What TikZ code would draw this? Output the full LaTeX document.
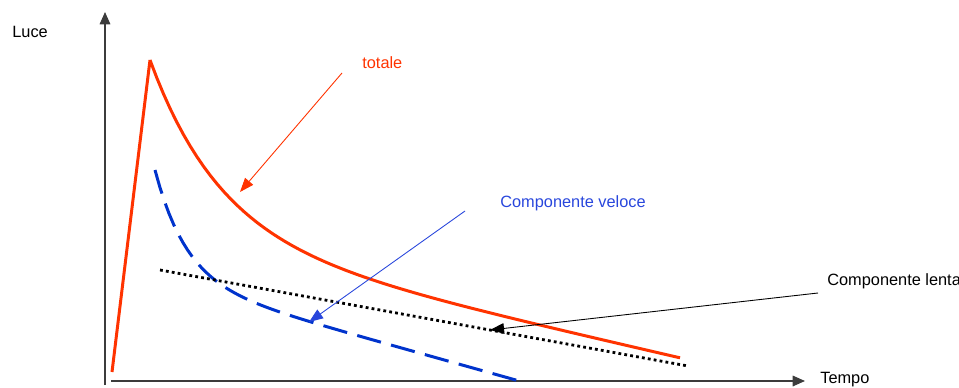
\documentclass[tikz,border=0pt]{standalone}
\usepackage{fontspec}
\setmainfont{Liberation Sans}
\usetikzlibrary{arrows.meta}
\definecolor{totred}{RGB}{255,51,0}
\definecolor{fastblue}{RGB}{0,51,204}
\definecolor{lblblue}{RGB}{40,70,220}
\definecolor{axisgray}{RGB}{60,60,60}
\tikzset{
  lbl/.style={anchor=west,inner sep=0pt,font=\fontsize{9.3}{11}\selectfont},
  axisline/.style={draw=axisgray,line width=0.9pt,-{Triangle[length=7pt,width=6pt]}},
  pointer/.style={line width=0.5pt,-{Triangle[length=8pt,width=6pt]}},
  totcurve/.style={totred,line width=1.7pt},
  fastcurve/.style={fastblue,line width=1.7pt,dash pattern=on 14pt off 6pt},
  slowcurve/.style={black,line width=1.6pt,dash pattern=on 1.6pt off 1.8pt}
}
\begin{document}
\begin{tikzpicture}[x=0.02cm,y=-0.02cm]
  \useasboundingbox (0,0) rectangle (959,388);
  \def\base{381}  % height of the time axis
  \def\tt{70}     % decay of the total
  \def\tf{31}     % decay of the fast part

  % axes
  \coordinate (yfoot) at (105,385);
  \coordinate (ytop) at (105,12);
  \coordinate (xfoot) at (111,381);
  \coordinate (xend) at (805,381);
  \draw[axisline] (yfoot) -- (ytop);
  \draw[axisline] (xfoot) -- (xend);
  \node[lbl] (luce) at (12,32) {Luce};
  \node[lbl] (tempo) at (820,380) {Tempo};

  % curves
  \draw[totcurve] (112,372) -- (150,60)
    plot[domain=150:680,samples=80]
      (\x,{\base-(176*exp(-(\x-150)/\tt)+145-0.23*(\x-150))});
  \draw[fastcurve] plot[domain=155:523,samples=80]
      (\x,{\base-(109*exp(-(\x-155)/\tf)+102-0.28*(\x-155))});
  \draw[slowcurve] (160,270) -- (688,366);

  % labels and pointers
  \node[lbl,text=totred] (totale) at (362,63) {totale};
  \node[lbl,text=lblblue] (veloce) at (500,203) {Componente veloce};
  \node[lbl] (lenta) at (827,281) {Componente lenta};
  \coordinate (totTail) at (342,73);
  \coordinate (totTip) at (240,192);
  \coordinate (velTail) at (465,211);
  \coordinate (velTip) at (309,322);
  \coordinate (lenTail) at (818,293);
  \coordinate (lenTip) at (490,330);
  \draw[pointer,totred] (totTail) -- (totTip);
  \draw[pointer,lblblue] (velTail) -- (velTip);
  \draw[pointer,black] (lenTail) -- (lenTip);
\end{tikzpicture}
\end{document}
